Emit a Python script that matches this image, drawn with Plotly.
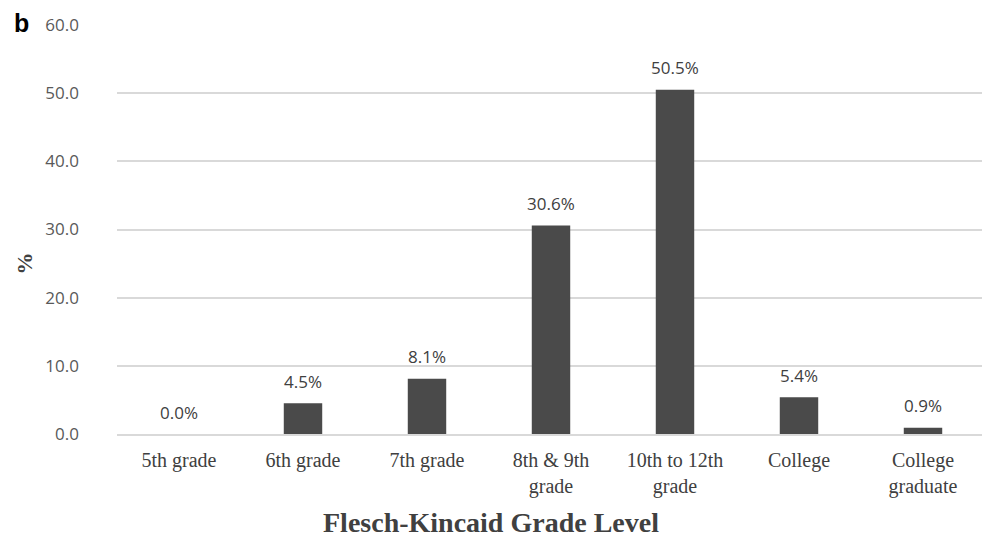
import plotly.graph_objects as go

categories = ["5th grade", "6th grade", "7th grade", "8th & 9th<br>grade",
              "10th to 12th<br>grade", "College", "College<br>graduate"]
values = [0.0, 4.5, 8.1, 30.6, 50.5, 5.4, 0.9]
labels = ["0.0%", "4.5%", "8.1%", "30.6%", "50.5%", "5.4%", "0.9%"]
y_ticks = [0, 10, 20, 30, 40, 50, 60]
y_ticktext = ["0.0", "10.0", "20.0", "30.0", "40.0", "50.0", "60.0"]

fig = go.Figure(go.Bar(
    x=categories, y=values,
    marker=dict(color="#4a4a4a", line=dict(width=0)),
    width=0.31,
))

annotations = [
    dict(x=c, y=v, xref="x", yref="y", text=t, showarrow=False,
         yanchor="middle", yshift=22,
         font=dict(family="Open Sans, sans-serif", size=17, color="#404040"))
    for c, v, t in zip(categories, values, labels)
]

annotations += [
    dict(text="<b>Flesch-Kincaid Grade Level</b>", xref="paper", yref="paper",
         x=0.431, y=0, yshift=-88, showarrow=False, xanchor="center", yanchor="middle",
         font=dict(family="Liberation Serif, serif", size=28, color="#404040")),
    dict(text="<b>%</b>", xref="paper", yref="paper", x=0, xshift=-93, y=0.417,
         showarrow=False, textangle=-90, xanchor="center", yanchor="middle",
         font=dict(family="Liberation Serif, serif", size=22, color="#404040")),
    dict(text="<b>b</b>", xref="paper", yref="paper", x=0, xshift=-105, y=1, yshift=2,
         showarrow=False, xanchor="left", yanchor="middle",
         font=dict(family="Liberation Sans, Arial, sans-serif", size=25, color="#000000")),
]

fig.update_layout(
    width=982, height=533,
    margin=dict(l=109, r=5, t=14, b=107),
    plot_bgcolor="white", paper_bgcolor="white",
    showlegend=False,
    xaxis=dict(
        tickfont=dict(family="Liberation Serif, serif", size=20, color="#404040"),
        showline=True, linecolor="#d9d9d9", linewidth=1.5,
        ticks="", showgrid=False, ticklabelstandoff=7,
    ),
    yaxis=dict(
        range=[0, 60], tickvals=y_ticks, ticktext=y_ticktext,
        tickfont=dict(family="Open Sans, sans-serif", size=17, color="#595959"),
        showgrid=True, gridcolor="#d9d9d9", gridwidth=1.5,
        zeroline=False, ticks="", ticklabelstandoff=37,
    ),
    annotations=annotations,
)

fig.write_html("out.html")
